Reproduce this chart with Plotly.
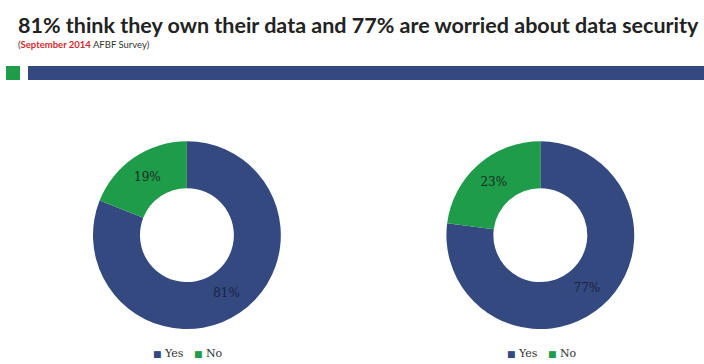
import plotly.graph_objects as go

labels = ["Yes", "No"]
own_data = [81, 19]
worried_security = [77, 23]

BLUE = "#34497f"
GREEN = "#1e9c4a"

fig = go.Figure()
common = dict(
    labels=labels, hole=0.5, sort=False, direction="clockwise", rotation=0,
    marker=dict(colors=[BLUE, GREEN], line=dict(width=0)),
    textinfo="percent", textposition="inside",
    insidetextfont=dict(family="DejaVu Serif", size=12, color=["#1a2340", "#1a2a20"]),
    hoverinfo="label+percent", showlegend=False,
)
fig.add_trace(go.Pie(values=own_data, domain=dict(x=[0.132, 0.399], y=[0.096, 0.612]), **common))
fig.add_trace(go.Pie(values=worried_security, domain=dict(x=[0.634, 0.901], y=[0.096, 0.612]), **common))

legend_text = "&nbsp;&nbsp;&nbsp;".join(
    f"<span style='color:{c};font-size:9px'>■</span>&nbsp;{lab}" for c, lab in zip([BLUE, GREEN], labels)
)

annotations = [
    dict(text="<b>81% think they own their data and 77% are worried about data security</b>",
         x=16/704, y=1-25/364, xref="paper", yref="paper", xanchor="left", yanchor="middle",
         showarrow=False, font=dict(family="Lato", size=21.5, color="#222222")),
    dict(text="(<b><span style='color:#d9262b'>September 2014</span></b> AFBF Survey)",
         x=16/704, y=1-44/364, xref="paper", yref="paper", xanchor="left", yanchor="middle",
         showarrow=False, font=dict(family="Lato", size=9.5, color="#333333")),
]
for cx in (188, 542):
    annotations.append(dict(text=legend_text, x=cx/704, y=1-353/364, xref="paper", yref="paper",
                            xanchor="center", yanchor="middle", showarrow=False,
                            font=dict(family="DejaVu Serif", size=11, color="#333333")))

fig.update_layout(
    width=704, height=364, margin=dict(l=0, r=0, t=0, b=0),
    paper_bgcolor="white", plot_bgcolor="white",
    shapes=[
        dict(type="rect", xref="paper", yref="paper", x0=6/704, x1=20/704,
             y0=1-80/364, y1=1-66/364, fillcolor=GREEN, line=dict(width=0)),
        dict(type="rect", xref="paper", yref="paper", x0=28/704, x1=1,
             y0=1-80/364, y1=1-66/364, fillcolor=BLUE, line=dict(width=0)),
    ],
    annotations=annotations,
)
fig.write_html("out.html")
